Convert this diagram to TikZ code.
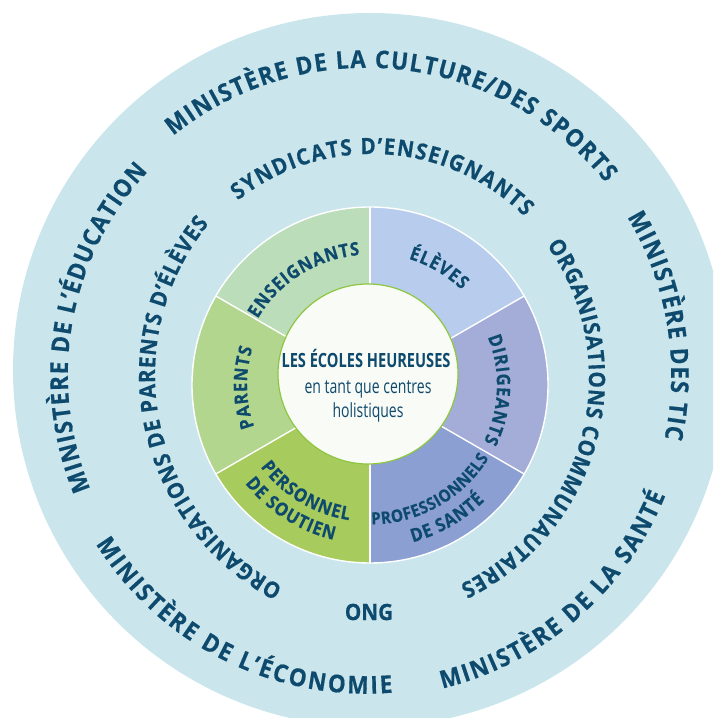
\documentclass[tikz,border=0pt]{standalone}
\usepackage{fontspec}
\usepackage{graphicx}
\setmainfont{Open Sans}
\newfontfamily\ringfam[FakeStretch=0.92, BoldFeatures={FakeBold=0.4}]{Open Sans}
\newfontfamily\innerfam[FakeStretch=0.9, BoldFeatures={FakeBold=0.4}]{Open Sans}
\usetikzlibrary{decorations.text}
\definecolor{bgblue}{HTML}{CAE6EC}
\definecolor{txtblue}{HTML}{0D4A6D}
\definecolor{segA}{HTML}{BCDDBA}
\definecolor{segB}{HTML}{B8CDEE}
\definecolor{segC}{HTML}{A4ACD8}
\definecolor{segD}{HTML}{8B9FD2}
\definecolor{segE}{HTML}{A8CB5D}
\definecolor{segF}{HTML}{B3D68F}
\definecolor{coreline}{HTML}{8DC641}
\definecolor{corefill}{HTML}{F9FBF6}
\newcommand\outerfmt{\ringfam\fontsize{24.5}{28}\selectfont\bfseries\color{txtblue}}
\newcommand\midfmt{\ringfam\fontsize{22.5}{26}\selectfont\bfseries\color{txtblue}}
\newcommand\innerfmt{\innerfam\fontsize{18.5}{22}\selectfont\bfseries\color{txtblue}}
\newcommand\innersmall{\innerfam\fontsize{17}{20}\selectfont\bfseries\color{txtblue}}
\newcommand\ringtext[5]{\path[decorate,decoration={text along path,text align={fit to path},text={#5}}] ([shift={#1}]#3:#2) arc[start angle=#3,end angle=#4,radius=#2];}
\begin{document}
\begin{tikzpicture}[x=1pt,y=1pt]
\useasboundingbox (0,0) rectangle (713,718);
\clip (0,0) rectangle (713,718);
\fill[bgblue] (370,348) circle[radius=357pt];
\coordinate (rc) at (370,333);
\foreach \a/\b/\c in {90/150/segA, 30/90/segB, -30/30/segC, -90/-30/segD, 210/270/segE, 150/210/segF} {
  \fill[\c] (rc) -- ++(\a:178pt) arc[start angle=\a, end angle=\b, radius=178pt] -- cycle;
}
\foreach \a in {30,90,150,210,270,330} \draw[white, line width=1.4pt] (rc) -- ++(\a:178pt);
\draw[white, line width=1.4pt] (rc) circle[radius=178pt];
\node[circle, draw=coreline, fill=corefill, line width=1.2pt, minimum size=180pt, inner sep=0pt] (core) at (368,344) {};
\node[anchor=base, text=txtblue, inner sep=0pt] (t1) at (366,350) {\resizebox{169pt}{\height}{\fontsize{19.6}{22}\selectfont\bfseries LES ÉCOLES HEUREUSES}};
\node[anchor=base, text=txtblue, inner sep=0pt] (t2) at (368,324) {\resizebox{127pt}{\height}{\fontsize{19.5}{22}\selectfont en tant que centres}};
\node[anchor=base, text=txtblue, inner sep=0pt] (t3) at (368,300) {\resizebox{71pt}{\height}{\fontsize{19.5}{22}\selectfont holistiques}};
\node[font=\midfmt, text=txtblue, inner sep=0pt] (ong) at (369,106) {ONG};
% outer ring texts
\ringtext{(366,343)}{307.2pt}{128.9}{38.7}{|\outerfmt|MINISTÈRE DE LA CULTURE/DES SPORTS}
\ringtext{(366,343)}{305.2pt}{31.2}{-12.0}{|\outerfmt|MINISTÈRE DES TIC}
\ringtext{(366,343)}{322.7pt}{-76.3}{-21.9}{|\outerfmt|MINISTÈRE DE LA SANTÉ}
\ringtext{(366,343)}{318.7pt}{212.0}{274.8}{|\outerfmt|MINISTÈRE DE L’ÉCONOMIE}
\ringtext{(366,343)}{298.2pt}{202.5}{137.0}{|\outerfmt|MINISTÈRE DE L’ÉDUCATION}
% middle ring texts
\ringtext{(372,347)}{217pt}{128.2}{45.3}{|\midfmt|SYNDICATS D’ENSEIGNANTS}
\ringtext{(394,343)}{239pt}{242.3}{140.7}{|\midfmt|ORGANISATIONS DE PARENTS D’ÉLÈVES}
\ringtext{(359,340)}{230pt}{35.3}{-64.0}{|\midfmt|ORGANISATIONS COMMUNAUTAIRES}
% inner ring texts
\ringtext{(370,333)}{130.3pt}{149.5}{94.5}{|\innerfmt|ENSEIGNANTS}
\ringtext{(370,333)}{132pt}{73}{46}{|\innerfmt|ÉLÈVES}
\ringtext{(370,333)}{127pt}{22.2}{-26.5}{|\innerfmt|DIRIGEANTS}
\ringtext{(370,333)}{123pt}{199.9}{162.5}{|\innerfmt|PARENTS}
\ringtext{(370,333)}{136.7pt}{216.8}{261.2}{|\innerfmt|PERSONNEL}
\ringtext{(370,333)}{159pt}{218.2}{256.8}{|\innerfmt|DE SOUTIEN}
\ringtext{(370,333)}{139.5pt}{-89.4}{-31.6}{|\innersmall|PROFESSIONNELS}
\ringtext{(370,333)}{163pt}{-74.8}{-45.2}{|\innerfmt|DE SANTÉ}
\end{tikzpicture}
\end{document}
